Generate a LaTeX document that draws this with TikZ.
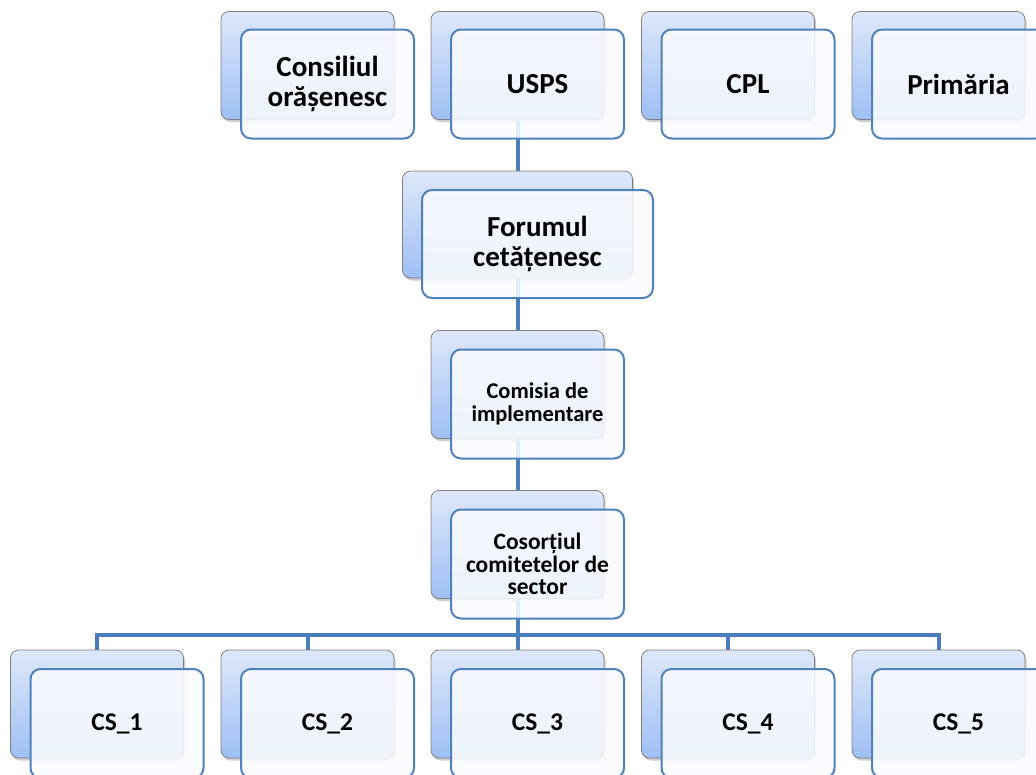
\documentclass[tikz,border=0pt]{standalone}
\usepackage{fontspec}
\setmainfont{Carlito}
\usetikzlibrary{shadows,backgrounds}
\definecolor{connc}{HTML}{4A7EBB}
\definecolor{frontedge}{HTML}{4F81BD}
\definecolor{backtop}{HTML}{DEE8FA}
\definecolor{backbot}{HTML}{9EBFF4}
\definecolor{backedge}{HTML}{7F7F7F}
\definecolor{frontfill}{HTML}{F9FBFE}
\tikzset{
  backbox/.style={draw=backedge, line width=0.8pt, rounded corners=8pt,
    top color=backtop, bottom color=backbot,
    minimum width=173pt, minimum height=108pt, inner sep=0pt,
    drop shadow={shadow xshift=1.5pt, shadow yshift=-2.5pt, opacity=0.4}},
  frontbox/.style={draw=frontedge, line width=2pt, rounded corners=10pt,
    fill=frontfill, fill opacity=0.88, text opacity=1,
    minimum width=173pt, minimum height=109pt, inner sep=0pt, align=center,
    font=\bfseries\fontsize{29}{30}\selectfont},
  midtext/.style={font=\bfseries\fontsize{22.5}{22.5}\selectfont},
  costext/.style={font=\bfseries\fontsize{23.5}{22.5}\selectfont},
  cstext/.style={font=\bfseries\fontsize{25.5}{26}\selectfont},
  connline/.style={draw=connc, line width=4pt},
}
\begin{document}
\begin{tikzpicture}[x=1pt,y=-1pt]
\useasboundingbox (0,0) rectangle (1036,774);
\clip (0,0) rectangle (1036,774);
% top row
\node[backbox] (cons_b) at (307.5,65.5) {};
\node[frontbox] (cons) at (327.5,84) {Consiliul\\orășenesc};
\node[backbox] (usps_b) at (517.5,65.5) {};
\node[frontbox] (usps) at (537.5,84) {USPS};
\node[backbox] (cpl_b) at (728,65.5) {};
\node[frontbox] (cpl) at (748,84) {CPL};
\node[backbox] (prim_b) at (938.5,65.5) {};
\node[frontbox] (prim) at (958.5,84) {Primăria};
% middle column
\node[backbox, minimum width=230pt, minimum height=107pt] (forum_b) at (517.5,224.5) {};
\node[frontbox, minimum width=231pt, minimum height=108pt] (forum) at (537.5,244) {Forumul\\cetățenesc};
\node[backbox] (com_b) at (517.5,384.5) {};
\node[frontbox, midtext] (com) at (537.5,404) {Comisia de\\implementare};
\node[backbox] (cos_b) at (517.5,544.5) {};
\node[frontbox, costext] (cos) at (537.5,564) {Cosorțiul\\comitetelor de\\sector};
% bottom row
\node[backbox] (cs1_b) at (97,704) {};
\node[frontbox, cstext] (cs1) at (117,723.5) {CS\_1};
\node[backbox] (cs2_b) at (307.5,704) {};
\node[frontbox, cstext] (cs2) at (327.5,723.5) {CS\_2};
\node[backbox] (cs3_b) at (517.5,704) {};
\node[frontbox, cstext] (cs3) at (537.5,723.5) {CS\_3};
\node[backbox] (cs4_b) at (728,704) {};
\node[frontbox, cstext] (cs4) at (748,723.5) {CS\_4};
\node[backbox] (cs5_b) at (938.5,704) {};
\node[frontbox, cstext] (cs5) at (958.5,723.5) {CS\_5};
\coordinate (bus) at (517.5,635);
\begin{scope}[on background layer]
\draw[connline] (usps_b.south) -- (forum_b.north);
\draw[connline] (forum_b.south) -- (com_b.north);
\draw[connline] (com_b.south) -- (cos_b.north);
\draw[connline] (cos_b.south) -- (bus);
\foreach \i in {1,...,5} \draw[connline] (bus) -| (cs\i_b.north);
\end{scope}
\end{tikzpicture}
\end{document}
